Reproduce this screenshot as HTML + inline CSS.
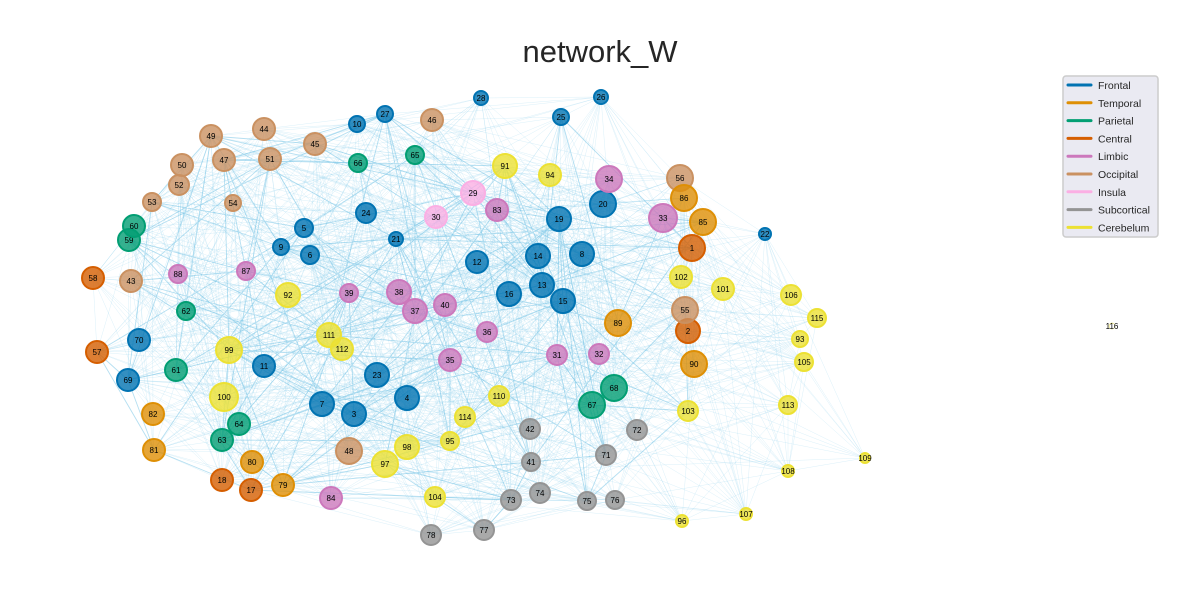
<!DOCTYPE html>
<html><head><meta charset="utf-8">
<style>
body{margin:0;background:#fff;}
svg{display:block;font-family:"Liberation Sans","DejaVu Sans",sans-serif;}
</style></head>
<body>
<svg id="chart" width="1200" height="600" viewBox="0 0 1200 600">
<text x="600" y="62" text-anchor="middle" font-size="31" fill="#262626">network_W</text>
<g id="edges"></g>
<g id="nodes"></g>
<g id="legend"></g>
</svg>
<script>
const groupNames=["Frontal","Temporal","Parietal","Central","Limbic","Occipital","Insula","Subcortical","Cerebelum"];
const groupColors=["#0173b2","#de8f05","#029e73","#d55e00","#cc78bc","#ca9161","#fbafe4","#949494","#ece133"];
const nodeIds=[1,2,3,4,5,6,7,8,9,10,11,12,13,14,15,16,17,18,19,20,21,22,23,24,25,26,27,28,29,30,31,32,33,34,35,36,37,38,39,40,41,42,43,44,45,46,47,48,49,50,51,52,53,54,55,56,57,58,59,60,61,62,63,64,65,66,67,68,69,70,71,72,73,74,75,76,77,78,79,80,81,82,83,84,85,86,87,88,89,90,91,92,93,94,95,96,97,98,99,100,101,102,103,104,105,106,107,108,109,110,111,112,113,114,115,116];
const nodeX=[692,688,354,407,304,310,322,582,281,357,264,477,542,538,563,509,251,222,559,603,396,765,377,366,561,601,385,481,473,436,557,599,663,609,450,487,415,399,349,445,531,530,131,264,315,432,224,349,211,182,270,179,152,233,685,680,97,93,129,134,176,186,222,239,415,358,592,614,128,139,606,637,511,540,587,615,484,431,283,252,154,153,497,331,703,684,246,178,618,694,505,288,800,550,450,682,385,407,229,224,723,681,688,435,804,791,746,788,865,499,329,342,788,465,817,1112];
const nodeY=[248,331,414,398,228,255,404,254,247,124,366,262,285,256,301,294,490,480,219,204,239,234,375,213,117,97,114,98,193,217,355,354,218,179,360,332,311,292,293,305,462,429,281,129,144,120,160,451,136,165,159,185,202,203,310,178,352,278,240,226,370,311,440,424,155,163,405,388,380,340,455,430,500,493,501,500,530,535,485,462,450,414,210,498,222,198,271,274,323,364,166,295,339,175,441,521,464,447,350,397,289,277,411,497,362,295,514,471,458,396,335,349,405,417,318,326];
const nodeR=[13,12,12,12,9,9,12,12,8,8,11,11,12,12,12,12,11,11,12,13,7,6,12,10,8,7,8,7,12,11,10,10,14,13,11,10,12,12,9,11,9,10,11,11,11,11,11,13,11,11,11,10,9,8,13,13,11,11,11,11,11,9,11,11,9,9,13,13,11,11,10,10,10,10,9,9,10,10,11,11,11,11,11,11,13,13,9,9,13,13,12,12,8,11,9,6,13,12,13,14,11,11,10,10,9,10,6,6,5,10,12,11,9,10,9,3];
const nodeGroup=[3,3,0,0,0,0,0,0,0,0,0,0,0,0,0,0,3,3,0,0,0,0,0,0,0,0,0,0,6,6,4,4,4,4,4,4,4,4,4,4,7,7,5,5,5,5,5,5,5,5,5,5,5,5,5,5,3,3,2,2,2,2,2,2,2,2,2,2,0,0,7,7,7,7,7,7,7,7,1,1,1,1,4,4,1,1,4,4,1,1,8,8,8,8,8,8,8,8,8,8,8,8,8,8,8,8,8,8,8,8,8,8,8,8,8,8];

const NS="http://www.w3.org/2000/svg";
const eg=document.getElementById('edges');
const ng=document.getElementById('nodes');
const lg=document.getElementById('legend');
const N=nodeIds.length;
let pathFaint="",pathStrong="";
for(let i=0;i<N;i++){for(let j=i+1;j<N;j++){
  if(nodeIds[i]===116||nodeIds[j]===116)continue;
  const dx=nodeX[i]-nodeX[j],dy=nodeY[i]-nodeY[j];const d=Math.hypot(dx,dy);
  const h=((i*73+j*151+i*j*7)%100);
  const thr=d<150?60:d<300?30:d<450?10:3;
  const seg=`M${nodeX[i]} ${nodeY[i]}L${nodeX[j]} ${nodeY[j]}`;
  if(h<thr){ if(h%4===0 && d<350 && nodeX[i]<720 && nodeX[j]<720) pathStrong+=seg; else pathFaint+=seg; }
}}
const ep=document.createElementNS(NS,'path');
ep.setAttribute('d',pathFaint);ep.setAttribute('stroke','#87ceeb');ep.setAttribute('stroke-opacity','0.3');ep.setAttribute('stroke-width','0.5');ep.setAttribute('fill','none');


eg.appendChild(ep);
const ep2=document.createElementNS(NS,'path');
ep2.setAttribute('d',pathStrong);ep2.setAttribute('stroke','#5bb8e0');ep2.setAttribute('stroke-opacity','0.45');ep2.setAttribute('stroke-width','0.9');ep2.setAttribute('fill','none');


eg.appendChild(ep2);

for(let i=0;i<N;i++){
  const g=document.createElementNS(NS,'g');
  
  
  const c=document.createElementNS(NS,'circle');
  const col=groupColors[nodeGroup[i]];
  c.setAttribute('cx',nodeX[i]);c.setAttribute('cy',nodeY[i]);c.setAttribute('r',nodeR[i]);
  c.setAttribute('fill',col);c.setAttribute('fill-opacity','0.8');
  c.setAttribute('stroke',col);c.setAttribute('stroke-width',nodeR[i]>4?'2':'0.5');
  
  
  if(nodeIds[i]===116){c.setAttribute('fill','#ffffff');}
  g.appendChild(c);
  const t=document.createElementNS(NS,'text');
  t.setAttribute('x',nodeX[i]);t.setAttribute('y',nodeY[i]+3);t.setAttribute('text-anchor','middle');
  t.setAttribute('font-size','8');t.setAttribute('fill','#000');t.textContent=nodeIds[i];
  
  
  g.appendChild(t);
  ng.appendChild(g);
}

const box=document.createElementNS(NS,'rect');
box.setAttribute('x',1063);box.setAttribute('y',76);box.setAttribute('width',95);box.setAttribute('height',161);
box.setAttribute('rx',3);box.setAttribute('fill','#eaeaf2');box.setAttribute('stroke','#cccccc');box.setAttribute('stroke-width','1.5');


lg.appendChild(box);
for(let k=0;k<groupNames.length;k++){
  const y=85+k*17.8;
  const g=document.createElementNS(NS,'g');
  
  
  const l=document.createElementNS(NS,'line');
  l.setAttribute('x1',1068);l.setAttribute('x2',1091);l.setAttribute('y1',y);l.setAttribute('y2',y);
  l.setAttribute('stroke',groupColors[k]);l.setAttribute('stroke-width','3');l.setAttribute('stroke-linecap','round');
  
  
  g.appendChild(l);
  const t=document.createElementNS(NS,'text');
  t.setAttribute('x',1098);t.setAttribute('y',y+4);t.setAttribute('font-size','10.5');t.setAttribute('fill','#262626');
  t.textContent=groupNames[k];
  
  
  g.appendChild(t);
  lg.appendChild(g);
}
</script>
</body></html>
